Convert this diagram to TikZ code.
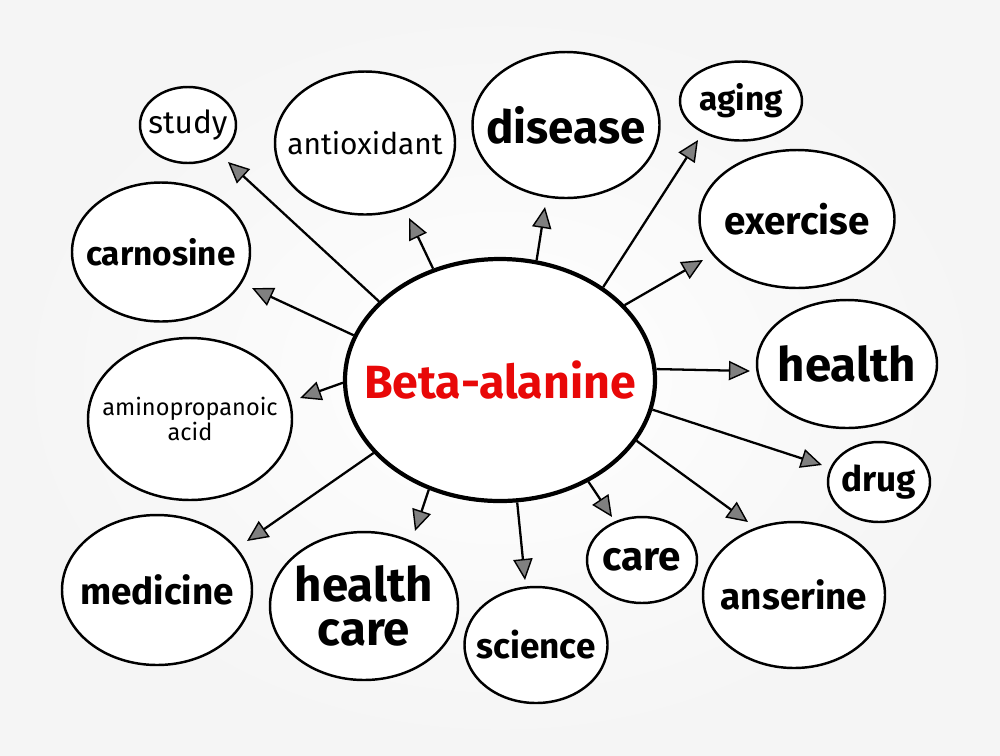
\documentclass[tikz,border=0pt]{standalone}
\usepackage{fontspec}
\setmainfont{Fira Sans}
\usetikzlibrary{shapes.geometric, arrows.meta}
\definecolor{betared}{RGB}{232,8,8}
\tikzset{
  bub/.style 2 args={ellipse, draw, line width=1.4pt, fill=white, inner sep=0pt,
    minimum width={#1*0.02cm}, minimum height={#2*0.02cm}},
  word/.style={font=\bfseries\fontsize{#1}{#1}\selectfont},
  lite/.style={font=\fontsize{#1}{#1}\selectfont},
  arr/.style={line width=1.3pt, -{Triangle[length=12pt, width=11pt, fill=black!50, line width=0.8pt]}}
}
\begin{document}
\begin{tikzpicture}[x=0.02cm, y=-0.02cm]
\useasboundingbox (0,0) rectangle (1000,755);
\shade[inner color=white, outer color=black!4] (0,0) rectangle (1000,755);

% centre
\node[bub={310}{242}, line width=2.4pt, label={[word=26.5, text=betared]center:Beta-alanine}] (ba) at (500,380) {};

% outer words
\node[bub={96}{76}, label={[lite=18]center:study}] (study) at (188,125) {};
\node[bub={180}{143}, label={[lite=17]center:antioxidant}] (antiox) at (365,143) {};
\node[bub={187}{146}, label={[word=26]center:disease}] (disease) at (566,125) {};
\node[bub={122}{79}, label={[word=19]center:aging}] (aging) at (741,101) {};
\node[bub={195}{138}, label={[word=22]center:exercise}] (exercise) at (797,219) {};
\node[bub={178}{139}, label={[word=19]center:carnosine}] (carnosine) at (161,252) {};
\node[bub={180}{128}, label={[word=27]center:health}] (health) at (847,364) {};
\node[bub={204}{162}, label={[align=center, font=\fontsize{13.4}{14.5}\selectfont]center:{aminopropanoic\\acid}}] (amino) at (190,419) {};
\node[bub={102}{80}, label={[word=20]center:drug}] (drug) at (879,482) {};
\node[bub={190}{150}, label={[word=21]center:medicine}] (medicine) at (157,590) {};
\node[bub={188}{148}, label={[align=center, font=\bfseries\fontsize{27}{25}\selectfont]center:{health\\care}}] (hcare) at (364,606) {};
\node[bub={143}{116}, label={[word=20]center:science}] (science) at (536,645) {};
\node[bub={110}{86}, label={[word=23]center:care}] (care) at (642,560) {};
\node[bub={182}{146}, label={[word=21]center:anserine}] (anserine) at (794,595) {};

% arrow tips
\coordinate (tStudy) at (228,162);
\coordinate (tAntiox) at (409,218);
\coordinate (tDisease) at (545,207);
\coordinate (tAging) at (698,140);
\coordinate (tExercise) at (703,260);
\coordinate (tCarnosine) at (252,288);
\coordinate (tHealth) at (750,371);
\coordinate (tAmino) at (300,398);
\coordinate (tDrug) at (822,465);
\coordinate (tAnserine) at (748,522);
\coordinate (tCare) at (612,517);
\coordinate (tScience) at (525,580);
\coordinate (tHcare) at (415,531);
\coordinate (tMedicine) at (247,541);

\draw[arr] (ba.147) -- (tStudy);
\draw[arr] (ba.121) -- (tAntiox);
\draw[arr] (ba.73) -- (tDisease);
\draw[arr] (ba.42) -- (tAging);
\draw[arr] (ba.31) -- (tExercise);
\draw[arr] (ba.163) -- (tCarnosine);
\draw[arr] (ba.4) -- (tHealth);
\draw[arr] (ba.181) -- (tAmino);
\draw[arr] (ba.-11) -- (tDrug);
\draw[arr] (ba.-24) -- (tAnserine);
\draw[arr] (ba.-49) -- (tCare);
\draw[arr] (ba.-82) -- (tScience);
\draw[arr] (ba.-123) -- (tHcare);
\draw[arr] (ba.-150) -- (tMedicine);
\end{tikzpicture}
\end{document}
